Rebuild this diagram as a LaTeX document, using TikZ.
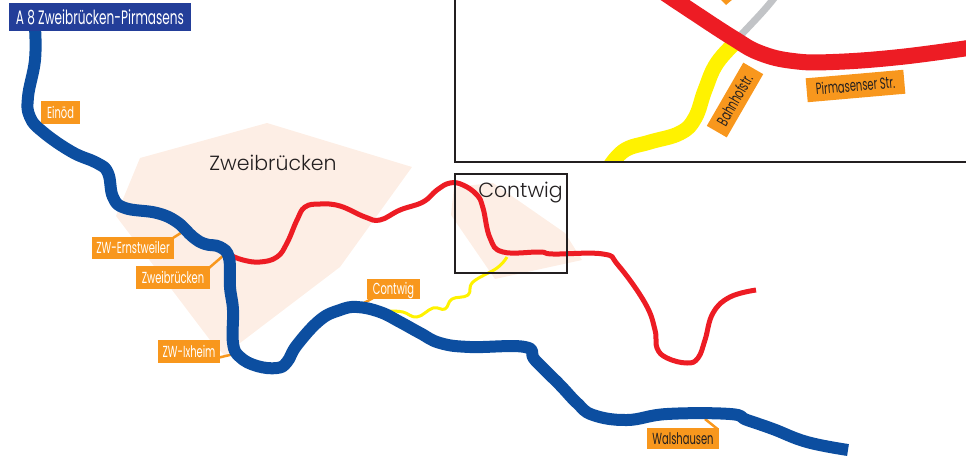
\documentclass[tikz,border=0pt]{standalone}
\usepackage{fontspec}
\newfontfamily\labelfont[FakeStretch=0.62]{Poppins}
\newfontfamily\placefont{Poppins Light}
\definecolor{motorway}{HTML}{0C4EA0}
\definecolor{roadred}{HTML}{ED1C24}
\definecolor{roadyellow}{HTML}{FFF200}
\definecolor{roadgray}{HTML}{C2C4C7}
\definecolor{tagorange}{HTML}{F8971D}
\definecolor{townpink}{HTML}{FDEEE5}
\definecolor{headblue}{HTML}{233E99}
\definecolor{inkdark}{HTML}{231F20}
\tikzset{
 road/.style={line join=round,line cap=butt},
 tag/.style={fill=tagorange,inner sep=0pt,text=white,font=\labelfont\fontsize{16}{16}\selectfont,text height=11pt,text depth=0pt,align=center},
 darktag/.style={tag,text=inkdark},
 leader/.style={draw=tagorange,line width=2.5pt},
 place/.style={inner sep=0pt,text=inkdark,font=\placefont\fontsize{20.5}{20.5}\selectfont},
 frame/.style={draw=inkdark,line width=2.6pt},
 town/.style={fill=townpink,draw=none},
}
\begin{document}
\begin{tikzpicture}[x=1pt,y=-1pt]
\useasboundingbox (0,0) rectangle (966,456);
% town areas
\fill[town] (140,158) -- (267,123) -- (412,167) -- (340,267) -- (240,343) -- (225,356) -- (210,340) -- (116,216) -- cycle;
\fill[town] (454,187) -- (493,183) -- (565,233) -- (582,260) -- (495,279) -- (451,215) -- cycle;
% inset contents
\begin{scope}
\clip (455,-5) rectangle (970,162);
\draw[road,roadgray,line width=7pt] (775,-3) .. controls (765,10) and (755,20) .. (740,36);
\draw[road,roadyellow,line width=15pt] plot[smooth,tension=0.7] coordinates {(738,40) (717,63) (705,90) (695,118) (680,133) (650,142) (625,150) (610,166)};
\fill[tagorange] (720,-1) -- (733,-1) -- (726,5) -- cycle;
\draw[road,roadred,line width=16pt] plot[smooth,tension=0.7] coordinates {(660,-10) (690,10) (733,38) (760,53) (793,61) (833,62) (900,57) (975,47)};
\end{scope}
\node[darktag,minimum width=98pt,minimum height=24pt,rotate=5] (pirma) at (855.5,86) {Pirmasenser Str.};
\node[darktag,minimum width=73pt,minimum height=23pt,rotate=60] (bahnhof) at (735,100) {Bahnhofstr.};
\draw[frame] (455,-5) -- (455,162) -- (971,162);
% thin yellow road
\draw[road,roadyellow,line width=3pt] plot[smooth,tension=0.7] coordinates {(507,257) (497,268) (473,282) (468,295) (452,299) (445,309) (433,308) (417,317) (403,312) (390,311)};
% red road
\draw[road,roadred,line width=5pt] plot[smooth,tension=0.7] coordinates {(230,255) (243,260) (260,262) (277,257) (287,243) (297,220) (305,207) (320,204) (340,206) (365,217) (380,220) (400,210) (423,202) (437,190) (450,183) (463,185) (477,195) (483,208) (490,238) (503,252) (540,252) (553,254) (603,254) (618,265) (645,303) (655,330) (657,348) (667,358) (687,363) (698,358) (705,340) (713,313) (730,297) (756,290)};
% tags
\node[tag,minimum width=39pt,minimum height=23pt] (einoed) at (60.5,112.5) {Einöd};
\node[tag,minimum width=82pt,minimum height=22pt] (ernst) at (133,248) {ZW-Ernstweiler};
\node[tag,minimum width=74pt,minimum height=23pt] (zwei) at (173,277.5) {Zweibrücken};
\node[tag,minimum width=62pt,minimum height=23pt] (ix) at (189,351.5) {ZW-Ixheim};
\node[tag,minimum width=53pt,minimum height=20pt] (cont) at (393.5,289) {Contwig};
\node[darktag,minimum width=72pt,minimum height=21pt] (wals) at (683,438.5) {Walshausen};
\coordinate (ernstEnd) at (184,231);
\coordinate (zweiEnd) at (224,255);
\coordinate (ixEnd) at (234,354);
\coordinate (contEnd) at (362,304);
\coordinate (walsEnd) at (705,419);
\draw[leader] (ernst.north east) ++(-1,1) -- (ernstEnd);
\draw[leader] (zwei.north east) ++(-1,2) -- (zweiEnd);
\draw[leader] (ix.east) ++(-1,6) -- (ixEnd);
\draw[leader] (cont.south west) ++(6,-1) -- (contEnd);
\draw[leader] (wals.north east) ++(-2,1) -- (walsEnd);
% motorway
\draw[road,motorway,line width=12pt] plot[smooth,tension=0.7] coordinates {(35,28) (35,60) (28,97) (30,117) (43,132) (72,152) (97,163) (108,173) (113,197) (125,208) (157,213) (177,222) (193,237) (205,244) (220,247) (229,258) (230,287) (233,310) (233,343) (240,357) (257,366) (277,368) (287,362) (297,345) (320,320) (340,310) (357,307) (380,312) (400,322) (420,333) (440,343) (470,347) (525,347) (535,360) (560,385) (577,403) (593,415) (627,420) (667,414) (730,414) (747,420) (773,429) (807,442) (848,450)};
% header and places
\node[tag,minimum width=182pt,minimum height=28pt,fill=headblue,font=\labelfont\fontsize{19.5}{19.5}\selectfont,text height=14pt] (head) at (100,17) {A 8 Zweibrücken-Pirmasens};
\node[place] (zname) at (273,163) {Zweibrücken};
% Contwig frame
\draw[frame] (455,174) rectangle (567,273);
\node[place] (cname) at (520.5,193) {Contwig};
\end{tikzpicture}
\end{document}
